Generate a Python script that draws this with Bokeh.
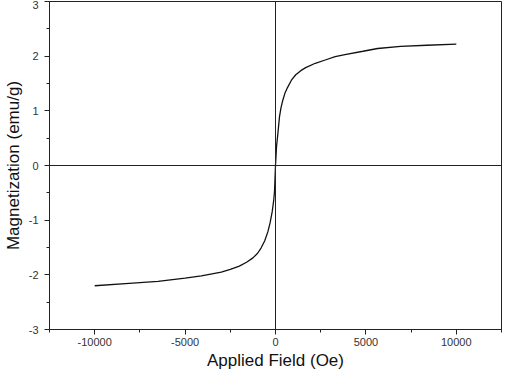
from bokeh.plotting import figure
from bokeh.models import Range1d, SingleIntervalTicker, Span, ColumnDataSource, PrintfTickFormatter
from bokeh.embed import file_html
from bokeh.resources import INLINE

# Applied field (Oe) and magnetization (emu/g)
field = [-10000, -8300, -6500, -5000, -4100, -3000, -2500, -2000, -1600, -1250, -1000, -800,
         -600, -420, -300, -180, -100, -55, 0, 60, 130, 220, 300, 400, 520, 670, 880,
         1120, 1400, 1670, 2200, 2750, 3300, 3840, 4840, 5650, 6920, 8370, 10000]
magnet = [-2.20, -2.16, -2.12, -2.06, -2.02, -1.95, -1.90, -1.84, -1.77, -1.69, -1.61, -1.51,
          -1.38, -1.21, -1.05, -0.84, -0.64, -0.48, 0.0, 0.36, 0.58, 0.89, 1.05, 1.19,
          1.32, 1.43, 1.56, 1.66, 1.735, 1.79, 1.87, 1.93, 1.99, 2.03, 2.09, 2.14, 2.18,
          2.20, 2.22]

x_ticks_interval = 5000
y_ticks_interval = 1

src = ColumnDataSource(dict(x=field, y=magnet))

p = figure(width=502, height=372, output_backend="svg", toolbar_location=None,
           x_range=Range1d(-12500, 12500), y_range=Range1d(-3, 3),
           min_border_left=41, min_border_right=1, min_border_top=1, min_border_bottom=36)

p.line("x", "y", source=src, line_color="#111111", line_width=1.3)

p.add_layout(Span(location=0, dimension="width", line_color="#222222", line_width=1))
p.add_layout(Span(location=0, dimension="height", line_color="#222222", line_width=1))

p.xgrid.visible = False
p.ygrid.visible = False
p.outline_line_color = "#222222"
p.outline_line_width = 1
p.background_fill_color = "white"
p.border_fill_color = "white"

p.xaxis.ticker = SingleIntervalTicker(interval=x_ticks_interval, num_minor_ticks=2)
p.yaxis.ticker = SingleIntervalTicker(interval=y_ticks_interval, num_minor_ticks=2)
p.xaxis.formatter = PrintfTickFormatter(format="%d")
p.yaxis.formatter = PrintfTickFormatter(format="%d")

for ax in (p.xaxis[0], p.yaxis[0]):
    ax.axis_line_color = "#222222"
    ax.major_tick_line_color = "#222222"
    ax.minor_tick_line_color = "#222222"
    ax.major_tick_in = 0
    ax.major_tick_out = 5
    ax.minor_tick_in = 0
    ax.minor_tick_out = 3
    ax.major_label_text_font = "Liberation Sans"
    ax.major_label_text_font_size = "11px"
    ax.major_label_text_color = "#333333"
    ax.axis_label_text_font = "Liberation Sans"
    ax.axis_label_text_font_style = "normal"
    ax.axis_label_text_color = "#111111"

p.xaxis.axis_label = "Applied Field (Oe)"
p.yaxis.axis_label = "Magnetization (emu/g)"
p.xaxis.axis_label_text_font_size = "17px"
p.yaxis.axis_label_text_font_size = "17px"
p.xaxis.major_label_standoff = 3
p.yaxis.major_label_standoff = 6
p.xaxis.axis_label_standoff = 2
p.yaxis.axis_label_standoff = 3

open("out.html", "w").write(file_html(p, INLINE))
